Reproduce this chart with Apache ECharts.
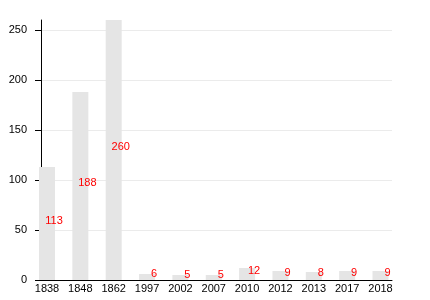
<!DOCTYPE html>
<html>
<head>
<meta charset="utf-8">
<script src="https://cdn.jsdelivr.net/npm/echarts@6/dist/echarts.min.js"></script>
<style>html,body{margin:0;padding:0;background:#fff}#c{width:430px;height:300px}</style>
</head>
<body>
<div id="c"></div>
<script>
var categories = ['1838','1848','1862','1997','2002','2007','2010','2012','2013','2017','2018'];
var values = [113, 188, 260, 6, 5, 5, 12, 9, 8, 9, 9];
var yTicks = [0, 50, 100, 150, 200, 250];

var positions = categories.map(function (c, i) { return i; });
var chart = echarts.init(document.getElementById('c'), null, {renderer: 'canvas'});
chart.setOption({
  animation: false,
  grid: {left: 41, right: 38, top: 20, bottom: 20, containLabel: false, outerBoundsMode: 'none'},
  xAxis: {
    type: 'value',
    min: -0.18,
    max: 10.345,
    axisLine: {show: true, onZero: false, lineStyle: {color: '#000', width: 1}},
    axisTick: {show: false},
    splitLine: {show: false},
    axisLabel: {
      customValues: positions,
      formatter: function (v) { return categories[Math.round(v)]; },
      color: '#000', fontSize: 11, fontFamily: 'Liberation Sans, Arial, sans-serif', margin: 3
    }
  },
  yAxis: {
    type: 'value',
    min: 0,
    max: 260,
    interval: 50,
    axisLine: {show: true, onZero: false, lineStyle: {color: '#000', width: 1}},
    axisTick: {show: true, length: 6, customValues: yTicks, lineStyle: {color: '#000'}},
    axisLabel: {customValues: yTicks, color: '#000', fontSize: 11, fontFamily: 'Liberation Sans, Arial, sans-serif', margin: 14},
    splitLine: {show: true, lineStyle: {color: ['#ebebeb','#ebebeb','#ebebeb','#ebebeb','#ebebeb','#ebebeb','rgba(0,0,0,0)'], width: 1}}
  },
  series: [{
    type: 'bar',
    barWidth: 16,
    clip: true,
    itemStyle: {color: '#e5e5e5'},
    data: values.map(function (v, i) { return [positions[i], v]; }),
    label: {
      show: true,
      position: 'inside',
      offset: [7, -3],
      color: '#ff0000',
      fontSize: 11,
      fontFamily: 'Liberation Sans, Arial, sans-serif'
    }
  }]
});
</script>
</body>
</html>
